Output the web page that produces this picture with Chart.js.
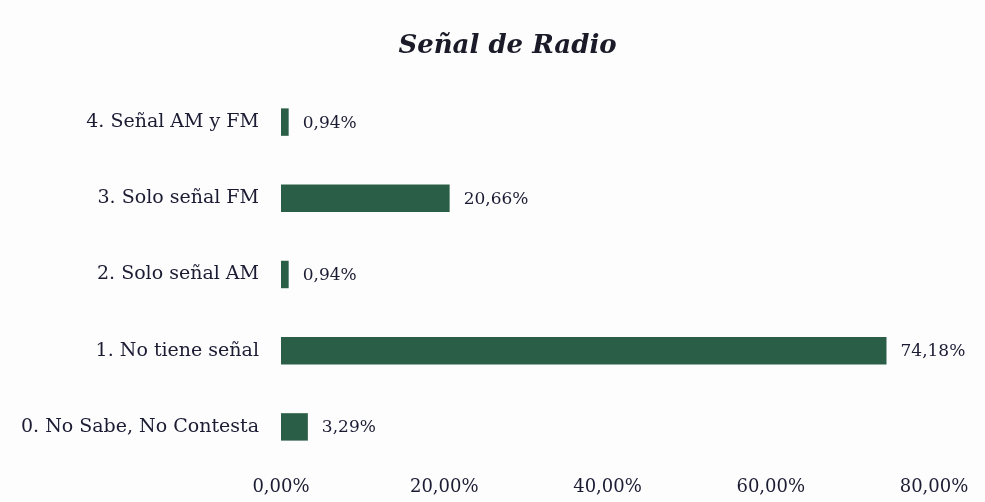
<!DOCTYPE html>
<html>
<head>
<meta charset="utf-8">
<script src="https://cdn.jsdelivr.net/npm/chart.js@4"></script>
<style>
  html,body{margin:0;padding:0;background:#fdfdfd;}
  #wrap{width:985px;height:502px;}
</style>
</head>
<body>
<div id="wrap"><canvas id="radioChart" width="985" height="502"></canvas></div>
<script>
// Señal de Radio — distribución (%)
const categorias = ["4. Señal AM y FM","3. Solo señal FM","2. Solo señal AM","1. No tiene señal","0. No Sabe, No Contesta"];
const porcentajes = [0.94, 20.66, 0.94, 74.18, 3.29];
const ticksX = [0, 20, 40, 60, 80];
const titulo = "Señal de Radio";

const SERIF = "'DejaVu Serif','Liberation Serif',serif";
const TXT = "#1b1b33";
const fmt = v => v.toFixed(2).replace(".", ",") + "%";

// etiquetas de valor al final de cada barra
const valueLabels = {
  id: "valueLabels",
  afterDatasetsDraw(chart){
    const {ctx} = chart, meta = chart.getDatasetMeta(0);
    ctx.save();
    ctx.font = "17px " + SERIF; ctx.fillStyle = TXT;
    ctx.textAlign = "left"; ctx.textBaseline = "middle";
    meta.data.forEach((bar, i) => ctx.fillText(fmt(porcentajes[i]), bar.x + 14, bar.y + 1));
    ctx.restore();
  }
};

// título centrado sobre la página (no sobre el área con padding)
const pageTitle = {
  id: "pageTitle",
  afterDraw(chart){
    const {ctx} = chart;
    ctx.save();
    ctx.font = "italic bold 26px " + SERIF; ctx.fillStyle = "#1a1a28";
    ctx.textAlign = "center"; ctx.textBaseline = "middle";
    ctx.fillText(titulo, chart.width / 2 + 15, 46);
    ctx.restore();
  }
};

new Chart(document.getElementById("radioChart"), {
  type: "bar",
  data: { labels: categorias, datasets: [{ data: porcentajes, backgroundColor: "#2b5e47", barPercentage: 0.36, categoryPercentage: 1 }] },
  options: {
    indexAxis: "y", responsive: false, animation: false,
    layout: { padding: { left: 0, right: 51, top: 84, bottom: 0 } },
    plugins: { legend: { display: false }, tooltip: { enabled: false }, title: { display: false } },
    scales: {
      x: { min: 0, max: 80, afterBuildTicks: s => { s.ticks = ticksX.map(v => ({ value: v })); },
        afterFit: s => { s.height = 37; },
        grid: { display: false, drawTicks: false }, border: { display: false },
        ticks: { color: TXT, padding: 12, maxRotation: 0, font: { family: SERIF, size: 18 }, callback: v => fmt(v) } },
      y: { grid: { display: false, drawTicks: false }, border: { display: false },
        afterFit: s => { s.width = 281; },
        ticks: { color: TXT, padding: 22, font: { family: SERIF, size: 19 } } }
    }
  },
  plugins: [valueLabels, pageTitle]
});
</script>
</body>
</html>
